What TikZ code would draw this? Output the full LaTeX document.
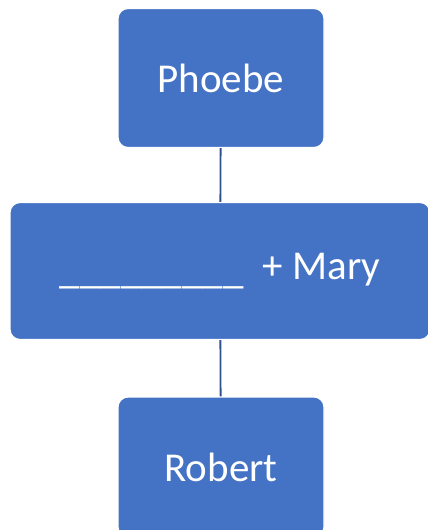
\documentclass[tikz,border=0pt]{standalone}
\usepackage{fontspec}
\setmainfont{Carlito}
\definecolor{boxblue}{HTML}{4472C4}
\definecolor{linkblue}{HTML}{2F528F}
\tikzset{
  person/.style={draw=white, line width=1.2pt, fill=boxblue, rounded corners=10pt,
    text=white, inner sep=0pt, minimum width=206pt, minimum height=139pt,
    font=\fontsize{41}{48}\selectfont},
  link/.style={draw=linkblue, line width=1.8pt}
}
\begin{document}
\begin{tikzpicture}[x=1pt,y=-1pt]
        \useasboundingbox (0,0) rectangle (428,530);

        \node[person] (phoebe) at (221,78) {Phoebe};
        \node[person, minimum width=420pt, minimum height=137pt] (couple) at (220,271) {\raisebox{-4pt}{\_\_\_\_\_\_\_\_\_}\hspace{10pt} + Mary};
        \node[person, minimum height=140pt] (robert) at (221,467) {Robert};

        \draw[link] (phoebe) to (couple);
        \draw[link] (couple) to (robert);
      \end{tikzpicture}
\end{document}
